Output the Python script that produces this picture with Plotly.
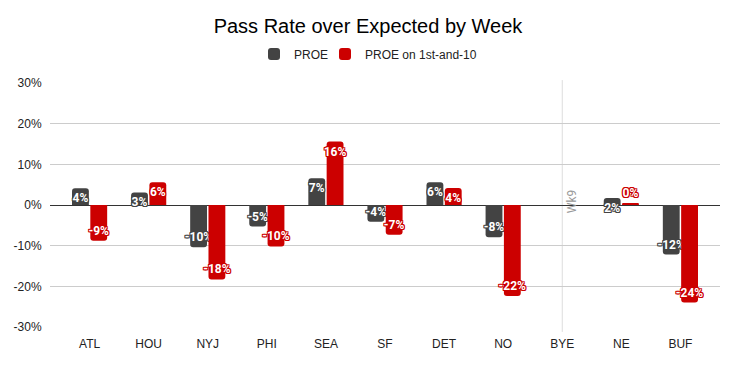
import plotly.graph_objects as go

weeks = ["ATL", "HOU", "NYJ", "PHI", "SEA", "SF", "DET", "NO", "BYE", "NE", "BUF"]
proe = [4.1, 3.1, -10.4, -5.3, 6.6, -4.1, 5.6, -7.9, None, 1.7, -12.2]
proe_1st10 = [-8.8, 5.6, -18.3, -10.2, 15.6, -7.3, 4.2, -22.4, None, 0.3, -24.0]
y_ticks = [-30, -20, -10, 0, 10, 20, 30]

GRAY = "#434343"
RED = "#cc0000"

# page body has an 8px margin; figure is sized/offset to compensate
W, H = 728, 359


def outline(c):
    return ",".join(f"{dx}px {dy}px 0 {c}" for dx, dy in
                    [(-1, -1), (1, -1), (-1, 1), (1, 1), (0, 1), (0, -1), (1, 0), (-1, 0)])


def positions(vals):
    return ["outside" if (v is not None and abs(v) < 1) else "inside" for v in vals]


fig = go.Figure()
for name, vals, col, leg in [("PROE", proe, GRAY, "legend"),
                             ("PROE on 1st-and-10", proe_1st10, RED, "legend2")]:
    tf = dict(family="Roboto", size=12, color="white", weight="bold", shadow=outline(col))
    fig.add_trace(go.Bar(
        x=weeks, y=vals, name=name, legend=leg, showlegend=True,
        marker=dict(color=col, cornerradius=3, line=dict(width=0)),
        texttemplate="%{y:.0f}%",
        textposition=positions(vals),
        insidetextanchor="end",
        constraintext="none",
        textangle=0,
        cliponaxis=False,
        textfont=tf, outsidetextfont=tf, insidetextfont=tf,
        hoverinfo="skip",
    ))

fig.add_shape(type="line", xref="x", yref="paper", x0="BYE", x1="BYE", y0=-0.02, y1=1.012,
              line=dict(color="#dddddd", width=1), layer="below")
fig.add_annotation(x="BYE", y=0, text="Wk9", textangle=-90, showarrow=False,
                   xshift=10, yshift=3, font=dict(family="Roboto", size=12, color="#999999"))

legend_common = dict(orientation="h", xanchor="left", xref="container",
                     yref="container", y=1 - 46 / H, yanchor="middle",
                     font=dict(family="Arial, Liberation Sans", size=12, color="#222222"),
                     itemwidth=30, bgcolor="rgba(0,0,0,0)", visible=True)

fig.update_layout(
    width=W, height=H, showlegend=True,
    margin=dict(l=42, r=16, t=75, b=40, autoexpand=False),
    paper_bgcolor="white", plot_bgcolor="white",
    title=dict(text="Pass Rate over Expected by Week", x=0.5 - 4 / W, xanchor="center",
               yref="container", y=1 - 18 / H, yanchor="middle",
               font=dict(family="Arial, Liberation Sans", size=20, color="#000000")),
    legend=dict(x=246 / W, **legend_common),
    legend2=dict(x=317 / W, **legend_common),
    barmode="group", bargap=0.38, bargroupgap=0.08,
    font=dict(family="Arial, Liberation Sans", size=12, color="#222222"),
    xaxis=dict(range=[-0.67, 10.67], showgrid=False, zeroline=False, showline=False,
               automargin=False,
               ticks="outside", ticklen=6, tickcolor="rgba(0,0,0,0)",
               tickfont=dict(family="Arial, Liberation Sans", size=12, color="#222222")),
    yaxis=dict(range=[-30, 30], tickvals=y_ticks, ticktext=[f"{v}%" for v in y_ticks],
               automargin=False,
               showgrid=True, gridcolor="#cccccc", gridwidth=1,
               zeroline=True, zerolinecolor="#333333", zerolinewidth=1,
               ticks="outside", ticklen=5, tickcolor="rgba(0,0,0,0)",
               tickfont=dict(family="Arial, Liberation Sans", size=12, color="#222222")),
)

fig.write_html("out.html")
